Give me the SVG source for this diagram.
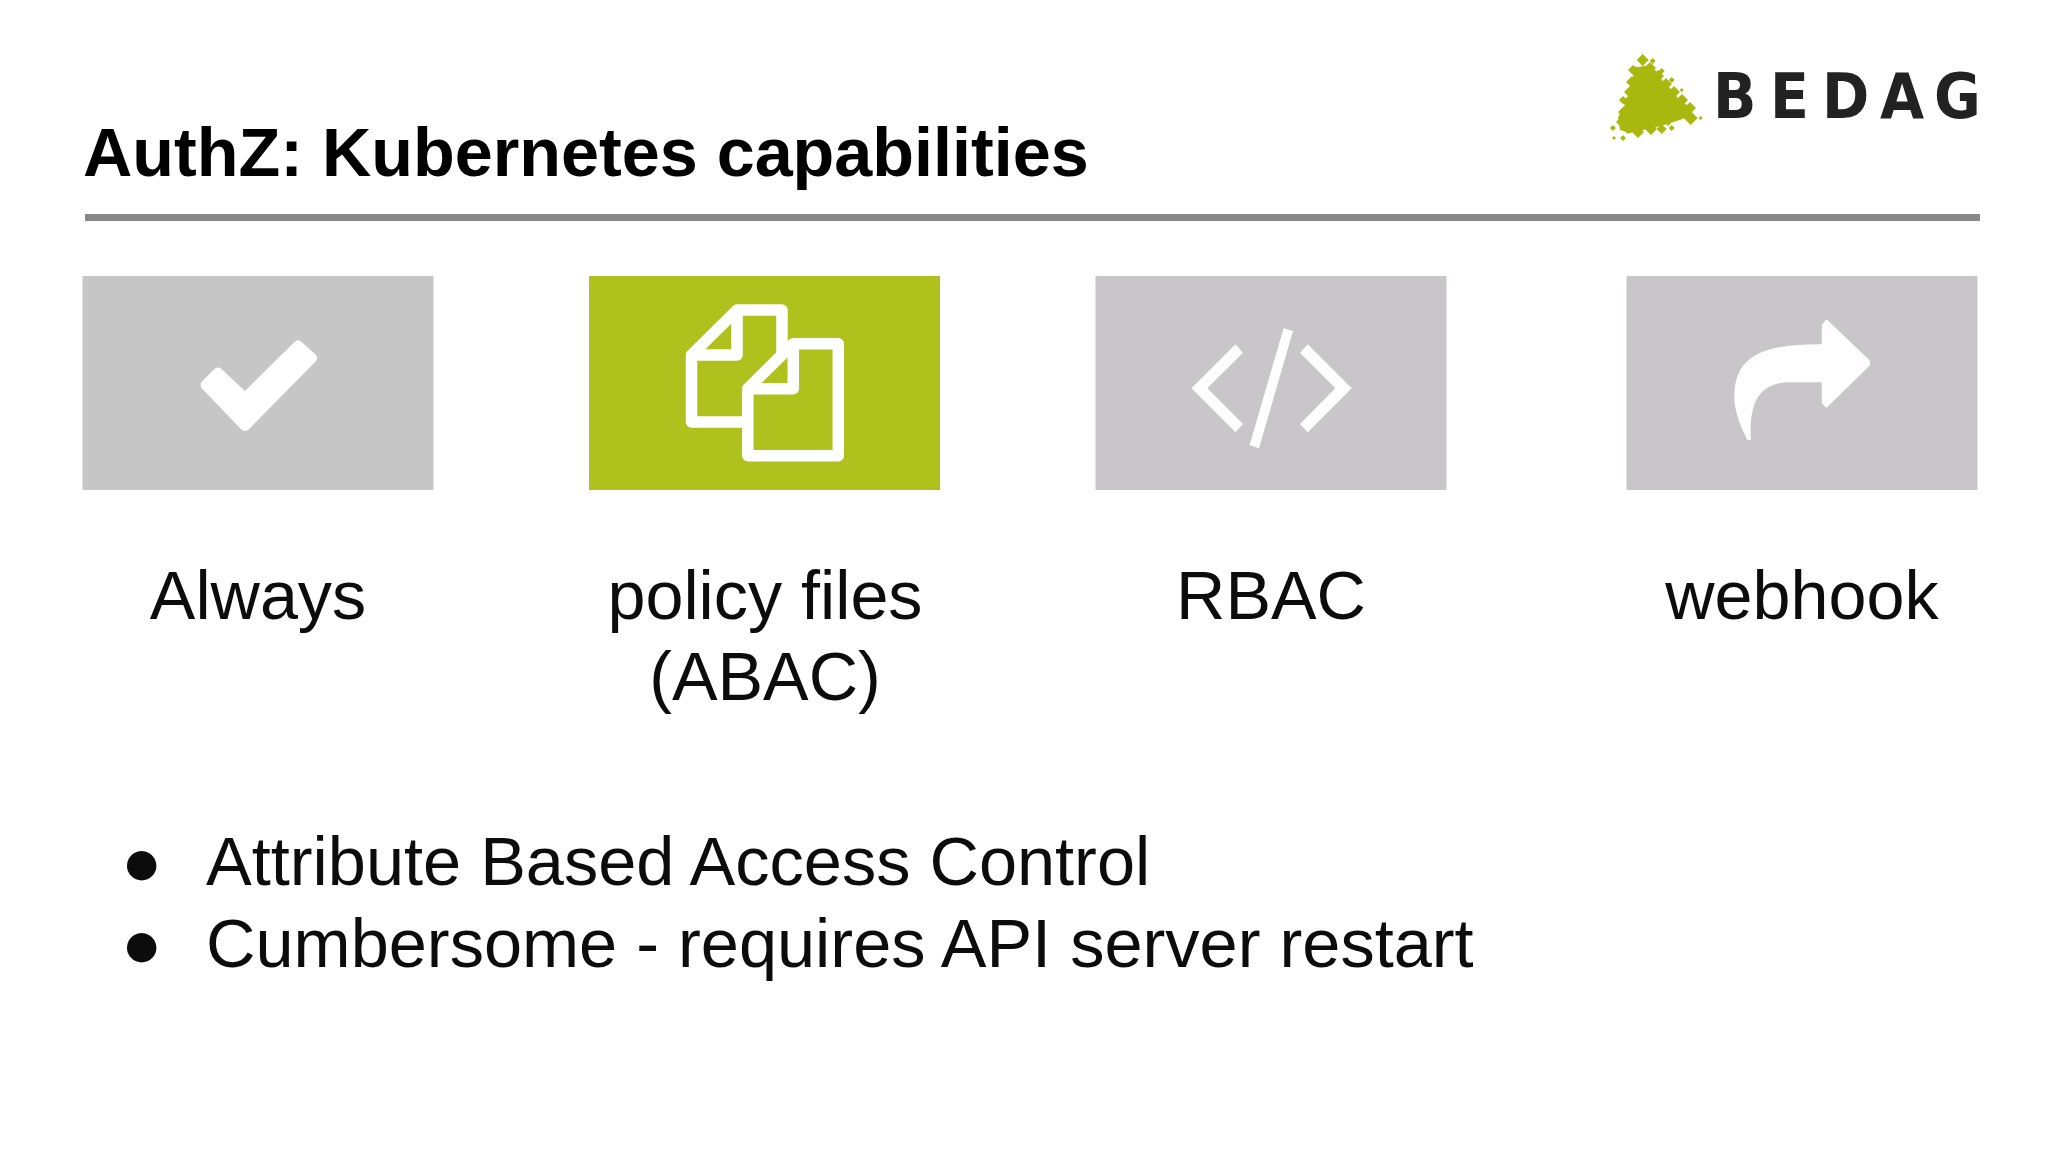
<svg xmlns="http://www.w3.org/2000/svg" xmlns:xlink="http://www.w3.org/1999/xlink" width="2048" height="1152" viewBox="0 0 2048 1152">
<style>
text{font-family:"Liberation Sans",Arial,sans-serif;fill:#000}
.title{font-size:68.3px;font-weight:700}
.label{font-size:68.3px;text-anchor:middle;fill:#0c0c0c}
.bullet{font-size:68.5px;fill:#0c0c0c}
.ico{fill:#fff}
.doc{stroke:#fff;stroke-width:11.5;stroke-linejoin:round;fill:#aec11c}
.logo{fill:#a9b80f}
.brand{font-size:62px;font-weight:700;fill:#222;font-family:"DejaVu Sans",sans-serif}
</style>
<defs>
<path id="doc" d="M691.5,355 L737,310 H782 V422 H691.5 Z M737,310 V355 H691.5"/>
</defs>
<rect width="2048" height="1152" fill="#fff"/>
<g id="logo">
<path class="logo" d="M1638,67 L1650,65 L1657,72 L1662,80 L1670,88 L1678,98 L1687,105 L1694,109 L1688,116 L1680,120 L1670,123 L1657,127 L1643,130 L1630,133 L1620,130 L1618,118 L1622,108 L1628,102 L1629,88 L1633,77 Z
M1650,62 l6,6 l-6,6 l-6,-6 Z M1658,70 l6,6 l-6,6 l-6,-6 Z M1666,78 l6,6 l-6,6 l-6,-6 Z M1674,86 l6,6 l-6,6 l-6,-6 Z M1682,94 l6,6 l-6,6 l-6,-6 Z M1690,102 l6,6 l-6,6 l-6,-6 Z
M1628,122 l6,6 l-6,6 l-6,-6 Z M1648,118 l6,6 l-6,6 l-6,-6 Z M1668,114 l6,6 l-6,6 l-6,-6 Z M1622,116 l6,6 l-6,6 l-6,-6 Z M1624,106 l6,6 l-6,6 l-6,-6 Z M1628,96 l6,6 l-6,6 l-6,-6 Z M1630,86 l6,6 l-6,6 l-6,-6 Z M1632,76 l6,6 l-6,6 l-6,-6 Z M1636,66 l6,6 l-6,6 l-6,-6 Z
M1642.7,54 l6,6 l-6,6 l-6,-6 Z M1652.7,58 l3,3 l-3,3 l-3,-3 Z M1633,65 l5,5 l-5,5 l-5,-5 Z M1623,96 l4,4 l-4,4 l-4,-4 Z M1690.7,111 l7,7 l-7,7 l-7,-7 Z M1700.7,116 l2,2 l-2,2 l-2,-2 Z M1681.7,88 l2,2 l-2,2 l-2,-2 Z M1671.7,77 l3,3 l-3,3 l-3,-3 Z M1661.7,68 l3,3 l-3,3 l-3,-3 Z M1613,125 l3,3 l-3,3 l-3,-3 Z M1623,135 l3,3 l-3,3 l-3,-3 Z M1614,136 l2,2 l-2,2 l-2,-2 Z M1671.7,125 l3,3 l-3,3 l-3,-3 Z M1661.7,124 l5,5 l-5,5 l-5,-5 Z M1651,123 l6,6 l-6,6 l-6,-6 Z M1638,126 l6,6 l-6,6 l-6,-6 Z"/>
<text class="brand" transform="scale(.92,1)" x="1862 1924 1980.4 2043.5 2102.2" y="118">BEDAG</text>
</g>
<g id="title">
<text class="title" x="83" y="176">AuthZ: Kubernetes capabilities</text>
<rect x="85" y="214" width="1895" height="7" fill="#888"/>
</g>
<g id="always">
<rect x="82.5" y="276" width="351" height="214" fill="#c6c6c6"/>
<path class="ico" d="M205.6,385 L218,372.6 L245,398 L298,345.6 L312,358 L245,426 Z" stroke="#fff" stroke-width="10" stroke-linejoin="round"/>
<text class="label" x="258" y="619">Always</text>
</g>
<g id="policy-files">
<rect x="589" y="276" width="351" height="214" fill="#aec11c"/>
<use xlink:href="#doc" class="doc"/>
<use xlink:href="#doc" class="doc" transform="translate(56.3,33.7)"/>
<text class="label" x="765" y="619">policy files</text>
<text class="label" x="765" y="700">(ABAC)</text>
</g>
<g id="rbac">
<rect x="1095.5" y="276" width="351" height="214" fill="#c8c6c8"/>
<path class="ico" d="M1191.5,388.3 L1235.5,344.3 L1243,352.7 L1207.3,388.3 L1243,424 L1235.5,432.3 Z M1351.7,388.3 L1307.7,344.3 L1300,352.7 L1335.3,388.3 L1300,424 L1307.7,432.3 Z M1283.6,328.3 L1293,331 L1259,448.3 L1249.6,445 Z"/>
<text class="label" x="1271" y="619">RBAC</text>
</g>
<g id="webhook">
<rect x="1626.5" y="276" width="351" height="214" fill="#c8c6c9"/>
<path class="ico" d="M1826.5,319.3 L1821.8,325 V344.3 C1770,344 1734.3,352 1734.3,396.7 C1734.3,415 1745,435 1747.5,440 L1750.8,440 C1749,400 1760,382.5 1790,382.3 L1821.8,382.3 V403.3 L1826.5,407.7 L1869.3,366 Q1871,363 1869.3,360 Z"/>
<text class="label" x="1802" y="619">webhook</text>
</g>
<g id="bullets">
<text class="bullet" x="121" y="885">●</text>
<text class="bullet" x="206" y="885">Attribute Based Access Control</text>
<text class="bullet" x="121" y="967">●</text>
<text class="bullet" x="206" y="967">Cumbersome - requires API server restart</text>
</g>
</svg>
